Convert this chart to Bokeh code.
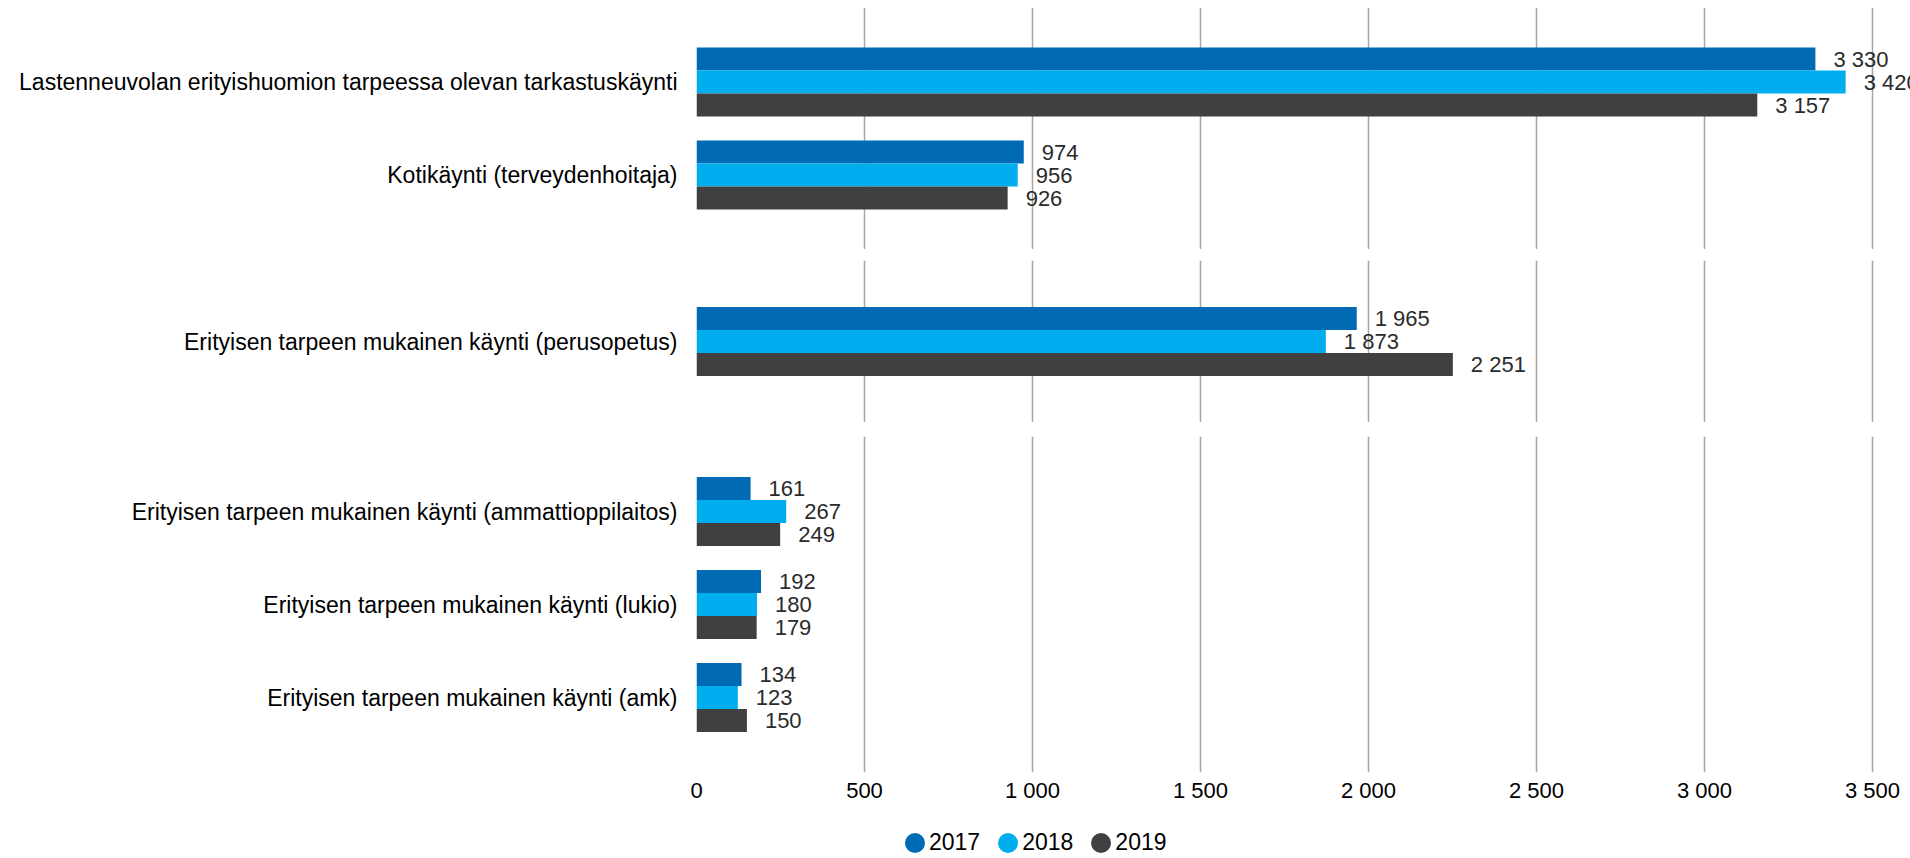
from bokeh.plotting import figure
from bokeh.models import FactorRange, Range1d, FixedTicker, Legend, LegendItem, ColumnDataSource
from bokeh.transform import dodge
from bokeh.layouts import column
from bokeh.embed import file_html
from bokeh.resources import INLINE
from bokeh.core.properties import value

# ---------------- data ----------------
years = ["2017", "2018", "2019"]
colors = ["#006AB4", "#00AEEF", "#404040"]

panel1_cats = ["Lastenneuvolan erityishuomion tarpeessa olevan tarkastuskäynti",
               "Kotikäynti (terveydenhoitaja)"]
panel1_2017 = [3330, 974]
panel1_2018 = [3420, 956]
panel1_2019 = [3157, 926]

panel2_cats = ["Erityisen tarpeen mukainen käynti (perusopetus)"]
panel2_2017 = [1965]
panel2_2018 = [1873]
panel2_2019 = [2251]

panel3_cats = ["Erityisen tarpeen mukainen käynti (ammattioppilaitos)",
               "Erityisen tarpeen mukainen käynti (lukio)",
               "Erityisen tarpeen mukainen käynti (amk)"]
panel3_2017 = [161, 192, 134]
panel3_2018 = [267, 180, 123]
panel3_2019 = [249, 179, 150]

x_ticks = [0, 500, 1000, 1500, 2000, 2500, 3000, 3500]
x_tick_labels = ["0", "500", "1 000", "1 500", "2 000", "2 500", "3 000", "3 500"]

# ---------------- style ----------------
FONT = "Liberation Sans"
W = 1910
LEFT = 696
STEP = 93.0           # px per category
BAR_H = 23.0 / STEP   # bar thickness in category units
xr = Range1d(0, 3613)


def fmt(v):
    return f"{v:,}".replace(",", " ")


def make_panel(cats, v17, v18, v19, height, top, bottom, frame_h, show_x):
    pad = (frame_h / STEP - len(cats)) / 2.0
    yr = FactorRange(*reversed(cats), range_padding=pad, range_padding_units="absolute")
    p = figure(width=W, height=height, x_range=xr, y_range=yr,
               output_backend="svg", toolbar_location=None,
               min_border_left=LEFT, min_border_right=0,
               min_border_top=top, min_border_bottom=bottom,
               x_axis_location="below" if show_x else None,
               outline_line_color=None, background_fill_color="white")
    src = ColumnDataSource(dict(
        cat=cats, v2017=v17, v2018=v18, v2019=v19,
        l2017=[fmt(v) for v in v17], l2018=[fmt(v) for v in v18], l2019=[fmt(v) for v in v19]))
    offsets = [BAR_H, 0.0, -BAR_H]
    for yname, col, off in zip(years, colors, offsets):
        ydod = dodge("cat", off, range=yr)
        p.hbar(y=ydod, left=0, right="v" + yname, height=BAR_H, source=src,
               fill_color=col, line_color=None)
        p.text(x="v" + yname, y=ydod, text="l" + yname, source=src,
               x_offset=18, text_align="left", text_baseline="middle",
               text_font=value(FONT), text_font_size="22px", text_color="#2B2B2B")

    p.xgrid.ticker = FixedTicker(ticks=x_ticks)
    p.xgrid.grid_line_color = "#A6A6A6"
    p.xgrid.grid_line_width = 1.5
    p.ygrid.grid_line_color = None

    p.yaxis.axis_line_color = None
    p.yaxis.major_tick_line_color = None
    p.yaxis.minor_tick_line_color = None
    p.yaxis.major_tick_out = 0
    p.yaxis.major_tick_in = 0
    p.yaxis.major_label_standoff = 19
    p.yaxis.major_label_text_font = FONT
    p.yaxis.major_label_text_font_size = "23px"
    p.yaxis.major_label_text_color = "#000000"

    if show_x:
        p.xaxis.ticker = FixedTicker(ticks=x_ticks)
        p.xaxis.major_label_overrides = {t: s for t, s in zip(x_ticks, x_tick_labels)}
        p.xaxis.axis_line_color = None
        p.xaxis.major_tick_line_color = None
        p.xaxis.minor_tick_line_color = None
        p.xaxis.major_tick_out = 0
        p.xaxis.major_tick_in = 0
        p.xaxis.major_label_standoff = 5
        p.xaxis.major_label_text_font = FONT
        p.xaxis.major_label_text_font_size = "22px"
        p.xaxis.major_label_text_color = "#000000"
    return p


p1 = make_panel(panel1_cats, panel1_2017, panel1_2018, panel1_2019,
                height=249, top=7, bottom=0, frame_h=242, show_x=False)
p2 = make_panel(panel2_cats, panel2_2017, panel2_2018, panel2_2019,
                height=173, top=11, bottom=0, frame_h=162, show_x=False)
p3 = make_panel(panel3_cats, panel3_2017, panel3_2018, panel3_2019,
                height=394, top=14, bottom=44, frame_h=336, show_x=True)

# legend-only strip with round markers
p4 = figure(width=W, height=42, x_range=Range1d(0, 1), y_range=Range1d(0, 1),
            output_backend="svg", toolbar_location=None,
            x_axis_location=None, y_axis_location=None,
            min_border_left=LEFT, min_border_right=0, min_border_top=0, min_border_bottom=0,
            outline_line_color=None, background_fill_color="white")
p4.xgrid.grid_line_color = None
p4.ygrid.grid_line_color = None
nan = float("nan")
dummy = ColumnDataSource(dict(x=[nan], y=[nan]))
items = []
for yname, col in zip(years, colors):
    r = p4.ellipse(x="x", y="y", width=10, height=10, width_units="screen",
                   height_units="screen", source=dummy,
                   fill_color=col, line_color=None)
    items.append(LegendItem(label=yname, renderers=[r]))

legend = Legend(items=items, location=(206, 2), orientation="horizontal",
                glyph_width=25, glyph_height=25, label_standoff=2, spacing=15,
                padding=0, margin=0, border_line_color=None, background_fill_alpha=0,
                label_text_font=FONT, label_text_font_size="23px",
                label_text_color="#000000")
p4.add_layout(legend)

layout = column(p1, p2, p3, p4, spacing=0)
open("out.html", "w", encoding="utf-8").write(file_html(layout, INLINE))
